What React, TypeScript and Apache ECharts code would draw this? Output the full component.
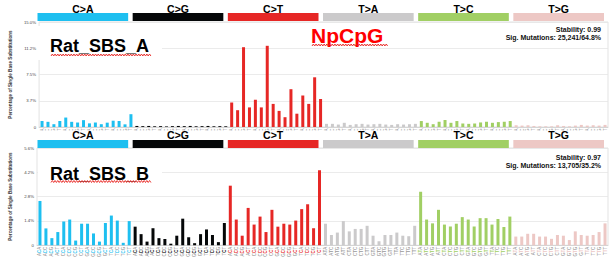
import React, { useEffect, useRef } from "react";
import * as echarts from "echarts";

// ---------- data ----------
const mutationTypes = ["C>A", "C>G", "C>T", "T>A", "T>C", "T>G"];
const typeColors = ["#1EBFF0", "#050708", "#E62725", "#CBCACB", "#A1CF64", "#EDC8C5"];
const flankBases = ["A", "C", "G", "T"];

// Rat_SBS_A (percent)
const aCA = [0.86, 0.74, 0.4, 0.86, 1.35, 0.74, 0.64, 0.98, 0.52, 0.64, 0.4, 0.62, 0.9, 0.86, 0.38, 1.83];
const aCG = [0.15, 0.12, 0.15, 0.1, 0.12, 0.08, 0.12, 0.15, 0.12, 0.15, 0.1, 0.12, 0.15, 0.1, 0.12, 0.1];
const aCT = [3.5, 2.4, 11.4, 2.8, 3.9, 2.8, 11.6, 3.3, 2.3, 1.4, 5.4, 1.9, 4.5, 3.3, 7.1, 4.0];
const aTA = [0.45, 0.45, 0.35, 0.6, 0.3, 0.4, 0.45, 0.35, 0.4, 0.45, 0.35, 0.3, 0.4, 0.35, 0.4, 0.45];
const aTC = [0.85, 0.6, 0.4, 0.75, 1.0, 0.6, 0.85, 0.5, 0.45, 0.5, 0.65, 0.75, 0.6, 0.7, 0.75, 0.85];
const aTG = [0.25, 0.2, 0.25, 0.15, 0.1, 0.1, 0.1, 0.25, 0.15, 0.1, 0.2, 0.3, 0.2, 0.25, 0.2, 0.3];

// Rat_SBS_B (percent)
const bCA = [2.55, 0.97, 0.41, 0.76, 1.37, 1.48, 0.27, 1.24, 1.24, 0.68, 0.21, 1.28, 1.71, 1.42, 0.14, 1.39];
const bCG = [1.07, 0.64, 0.21, 0.98, 0.41, 0.36, 0.09, 0.55, 1.53, 0.46, 0.12, 0.64, 0.91, 0.59, 0.18, 1.28];
const bCT = [3.43, 1.48, 0.55, 2.15, 1.19, 1.65, 0.76, 2.04, 1.07, 1.24, 1.19, 1.42, 2.08, 2.36, 0.98, 4.32];
const bTA = [1.24, 0.59, 0.73, 1.39, 0.8, 0.94, 0.94, 1.12, 0.55, 0.23, 0.59, 0.59, 0.73, 0.55, 0.52, 1.12];
const bTC = [3.08, 1.48, 1.26, 2.04, 1.19, 1.08, 1.24, 1.62, 1.48, 1.08, 1.56, 1.56, 1.19, 1.51, 1.05, 1.65];
const bTG = [0.5, 0.5, 0.66, 0.66, 0.5, 0.5, 0.37, 0.59, 0.55, 0.3, 0.8, 0.59, 0.55, 0.59, 0.76, 1.26];

const yTicksA = ["0", "3.7%", "7.5%", "11.2%", "15.0%"];
const yTicksB = ["0", "1.4%", "2.8%", "4.2%", "5.6%"];
const yMaxA = 15;
const yMaxB = 5.6;

const sigNames = ["Rat_SBS_A", "Rat_SBS_B"];
const stabilityTexts = ["Stability: 0.99", "Stability: 0.97"];
const sigMutTexts = ["Sig. Mutations: 25,241/64.8%", "Sig. Mutations: 13,705/35.2%"];
const noteText = "NpCpG";

// categories like ACA (5' base, ref base, 3' base)
const categories: { label: string; g: number }[] = [];
mutationTypes.forEach((t, g) => {
  flankBases.forEach((b5) => {
    flankBases.forEach((b3) => {
      categories.push({ label: b5 + t[0] + b3, g });
    });
  });
});

const seriesA = [...aCA, ...aCG, ...aCT, ...aTA, ...aTC, ...aTG];
const seriesB = [...bCA, ...bCG, ...bCT, ...bTA, ...bTC, ...bTG];

// ---------- layout ----------
const W = 612;
const H = 260;
const gridLeft = 37;
const gridWidth = 571;
const gridTops = [22, 148];
const gridHeight = 105;
const stripY = [13, 140];
const headerY = [8.5, 134.5];
const FONT = '"Liberation Sans", Arial, Helvetica, sans-serif';

function wavy(x0: number, x1: number, y: number): number[][] {
  const pts: number[][] = [];
  let i = 0;
  for (let x = x0; x <= x1; x += 1.35, i++) {
    pts.push([x, y + (i % 2 === 0 ? 1 : -1)]);
  }
  return pts;
}

function textEl(x: number, y: number, text: string, font: string, fill: string, align: string, z = 10) {
  return {
    type: "text",
    x,
    y,
    z,
    style: {
      text,
      font,
      fill,
      align,
      textAlign: align,
      verticalAlign: "middle",
      textVerticalAlign: "middle",
    },
  };
}

export default function App() {
  const ref = useRef<HTMLDivElement>(null);

  useEffect(() => {
    if (!ref.current) return;
    const chart = echarts.init(ref.current, undefined, { renderer: "svg" });

    const rich: Record<string, any> = { g: { color: "#8a8a8a", fontSize: 4.5, fontFamily: FONT } };
    typeColors.forEach((c, i) => {
      rich["c" + i] = { color: i === 3 ? "#9a9a9a" : c, fontSize: 4.5, fontFamily: FONT, fontWeight: "bold" };
    });

    const xAxisBase = (gridIndex: number) => ({
      type: "category",
      gridIndex,
      data: categories.map((c) => c.label),
      axisTick: { show: false },
      axisLine: { show: true, lineStyle: { color: "#cfcfcf", width: 0.8 } },
      axisLabel: {
        interval: 0,
        rotate: 90,
        margin: 1.5,
        formatter: (v: string, idx: number) => {
          const g = categories[idx] ? categories[idx].g : 0;
          return `{g|${v[0]}}{c${g}|${v[1]}}{g|${v[2]}}`;
        },
        rich,
      },
      splitLine: { show: false },
    });

    const yAxisBase = (gridIndex: number, max: number, ticks: string[]) => ({
      type: "value",
      gridIndex,
      min: 0,
      max,
      interval: max / 4,
      name: "Percentage of Single Base Substitutions",
      nameLocation: "middle",
      nameGap: 14,
      nameTextStyle: { fontSize: 4.6, fontWeight: "bold", color: "#333", fontFamily: FONT },
      axisLine: { show: false },
      axisTick: { show: false },
      axisLabel: {
        fontSize: 4.3,
        color: "#444",
        fontFamily: FONT,
        margin: 3,
        formatter: (v: number) => ticks[Math.round(v / (max / 4))] ?? "",
      },
      splitLine: { show: true, lineStyle: { color: "#e6e6e6", width: 0.8 } },
    });

    const graphics: any[] = [];

    // white mask hiding the lower part of the top panel's x labels
    graphics.push({
      type: "rect",
      z: 5,
      shape: { x: 0, y: 130.5, width: W, height: 9 },
      style: { fill: "#ffffff" },
    });

    [0, 1].forEach((p) => {
      // strips + headers
      mutationTypes.forEach((t, g) => {
        const x0 = gridLeft + (g * gridWidth) / 6 + 0.5;
        const w = gridWidth / 6 - 4.5;
        graphics.push({
          type: "rect",
          z: 6,
          shape: { x: x0, y: stripY[p], width: w, height: 8 },
          style: { fill: typeColors[g] },
        });
        graphics.push(textEl(x0 + w / 2, headerY[p], t, `bold 10.5px ${FONT}`, "#000", "center", 7));
      });

      // white box behind signature name
      const top = gridTops[p];
      graphics.push({
        type: "rect",
        z: 1,
        shape: { x: gridLeft + 1, y: top + 4, width: 124, height: 34 },
        style: { fill: "#ffffff" },
      });
      const nameY = p === 0 ? 46 : 173.5;
      graphics.push(textEl(50, nameY, sigNames[p], `bold 18px ${FONT}`, "#000", "left"));
      graphics.push({
        type: "polyline",
        z: 10,
        shape: { points: wavy(51, 152, p === 0 ? 55 : 181.5) },
        style: { stroke: "#e8231f", lineWidth: 0.9, fill: "none" },
      });

      // stability / mutations
      const sy = p === 0 ? 29.5 : 157.5;
      graphics.push(textEl(601, sy, stabilityTexts[p], `bold 7px ${FONT}`, "#111", "right"));
      graphics.push(textEl(601, sy + 7.5, sigMutTexts[p], `bold 7px ${FONT}`, "#111", "right"));
    });

    // NpCpG note
    graphics.push(textEl(311, 35, noteText, `bold 21px ${FONT}`, "#FF0000", "left"));
    graphics.push({
      type: "polyline",
      z: 10,
      shape: { points: wavy(312, 388, 45) },
      style: { stroke: "#e8231f", lineWidth: 0.9, fill: "none" },
    });

    const barColor = (p: any) => typeColors[Math.floor(p.dataIndex / 16)];

    chart.setOption({
      animation: false,
      backgroundColor: "#ffffff",
      grid: gridTops.map((t) => ({
        left: gridLeft,
        top: t,
        width: gridWidth,
        height: gridHeight,
        show: true,
        borderColor: "#dcdcdc",
        borderWidth: 0.8,
        containLabel: false,
      })),
      xAxis: [xAxisBase(0), xAxisBase(1)],
      yAxis: [yAxisBase(0, yMaxA, yTicksA), yAxisBase(1, yMaxB, yTicksB)],
      series: [
        {
          type: "bar",
          xAxisIndex: 0,
          yAxisIndex: 0,
          data: seriesA,
          barWidth: 3,
          itemStyle: { color: barColor },
          z: 2,
        },
        {
          type: "bar",
          xAxisIndex: 1,
          yAxisIndex: 1,
          data: seriesB,
          barWidth: 3,
          itemStyle: { color: barColor },
          z: 2,
        },
      ],
      graphic: { elements: graphics },
    });

    return () => chart.dispose();
  }, []);

  return (
    <div
      ref={ref}
      style={{ position: "fixed", left: 0, top: 0, width: W, height: H, background: "#fff" }}
    />
  );
}
